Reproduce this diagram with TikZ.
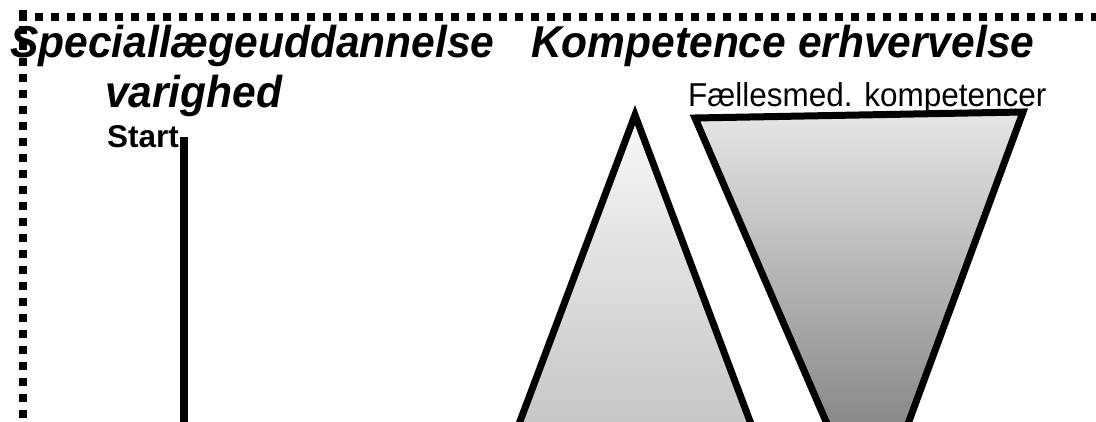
\documentclass[tikz,border=0pt]{standalone}
\usepackage{fontspec}
\setmainfont{Liberation Sans}
\definecolor{triAtop}{HTML}{F8F8F8}
\definecolor{triAbot}{HTML}{C4C4C4}
\definecolor{triBtop}{HTML}{E6E6E6}
\definecolor{triBmid}{HTML}{CECECE}
\definecolor{triBbot}{HTML}{848484}
\begin{document}
\begin{tikzpicture}[x=1pt,y=-1pt,
  titletext/.style={font=\fontsize{42.5}{48}\selectfont\bfseries\itshape, anchor=base west, inner sep=0pt, yscale=1.05},
  starttext/.style={font=\fontsize{31.5}{34}\selectfont\bfseries, anchor=base west, inner sep=0pt},
  labeltext/.style={font=\fontsize{31.5}{36}\selectfont, anchor=base west, inner sep=0pt, yscale=1.05},
  border/.style={line width=7.5pt, dash pattern=on 8pt off 8pt, line cap=butt},
  triangleshape/.style={line width=7pt, line join=miter, draw=black}]
\useasboundingbox (0,0) rectangle (1096,421);
\begin{scope}
\clip (0,0) rectangle (1096,421);
% dotted frame
\coordinate (frameTL) at (19,17);
\coordinate (frameTR) at (1120,17);
\coordinate (frameLT) at (23,10);
\coordinate (frameLB) at (23,450);
\draw[border] (frameTL) -- (frameTR);
\draw[border] (frameLT) -- (frameLB);
% duration line
\coordinate (lineTop) at (184,137);
\coordinate (lineBot) at (184,450);
\draw[line width=8pt] (lineTop) -- (lineBot);
% rising triangle
\draw[triangleshape, top color=triAtop, bottom color=triAbot]
  (635,115) -- (757,440) -- (513,440) -- cycle;
% falling triangle
\draw[triangleshape, top color=triBtop, middle color=triBmid, bottom color=triBbot]
  (695,118) -- (1023,112) -- (902,440) -- (834,440) -- cycle;
\end{scope}
% texts
\node[titletext] (title1) at (10,57) {Speciallægeuddannelse};
\node[titletext] (title1b) at (105,107) {varighed};
\node[titletext] (title2) at (531,57) {Kompetence erhvervelse};
\node[starttext] (start) at (107,147) {Start};
\node[labeltext] (faelles) at (688,106) {Fællesmed. kompetencer};
\end{tikzpicture}
\end{document}
